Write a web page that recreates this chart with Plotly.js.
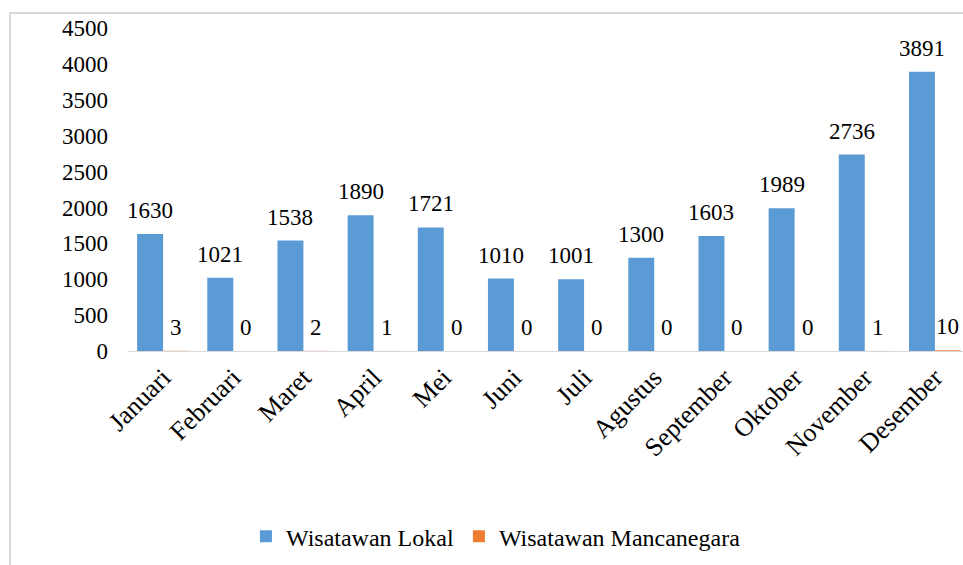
<!DOCTYPE html>
<html>
<head>
<meta charset="utf-8">
<script src="https://cdn.plot.ly/plotly-3.0.1.min.js"></script>
<style>
  body { margin: 0; background: #fff; }
  #wrap { position: relative; width: 963px; height: 565px; overflow: hidden; }
  #chart { position: absolute; left: 0; top: 0; width: 963px; height: 565px; }
  #frame { position: absolute; left: 9px; top: 12px; width: 960px; height: 560px;
           border-left: 2px solid #d9d9d9; border-top: 2px solid #d9d9d9; pointer-events: none; }
</style>
</head>
<body>
<div id="wrap">
  <div id="chart"></div>
  <div id="frame"></div>
</div>
<script>
const months = ["Januari","Februari","Maret","April","Mei","Juni","Juli","Agustus","September","Oktober","November","Desember"];
const lokal = [1630, 1021, 1538, 1890, 1721, 1010, 1001, 1300, 1603, 1989, 2736, 3891];
const mancanegara = [3, 0, 2, 1, 0, 0, 0, 0, 0, 0, 1, 10];
const yTicks = [0, 500, 1000, 1500, 2000, 2500, 3000, 3500, 4000, 4500];

const FONT = "'Times New Roman', 'Liberation Serif', Times, serif";
const idx = months.map((m, i) => i);

const traces = [
  { type: "bar", name: "Wisatawan Lokal", x: idx, y: lokal,
    marker: { color: "#5B9BD5" }, hoverinfo: "skip" },
  { type: "bar", name: "Wisatawan Mancanegara", x: idx, y: mancanegara,
    marker: { color: "#ED7D31" }, hoverinfo: "skip" }
];

const off = 0.185;
const annotations = [];
lokal.forEach((v, i) => annotations.push({
  x: i - off, y: v, xref: "x", yref: "y", text: String(v), showarrow: false,
  yanchor: "bottom", yshift: 9, font: { family: FONT, size: 23, color: "#000" }
}));
mancanegara.forEach((v, i) => annotations.push({
  x: i + off, y: v, xref: "x", yref: "y", text: String(v), showarrow: false,
  yanchor: "bottom", yshift: 9, font: { family: FONT, size: 23, color: "#000" }
}));

const layout = {
  width: 963, height: 565,
  margin: { l: 128, r: 0, t: 28, b: 214 },
  paper_bgcolor: "#fff", plot_bgcolor: "#fff",
  font: { family: FONT, size: 23, color: "#000" },
  barmode: "group", bargap: 0.26, bargroupgap: 0,
  showlegend: true,
  legend: {
    orientation: "h", xref: "container", yref: "container",
    x: 0.515, xanchor: "center", y: 0.05, yanchor: "middle",
    font: { family: FONT, size: 24, color: "#000" }, traceorder: "normal"
  },
  xaxis: {
    type: "linear", range: [-0.5, 11.4],
    tickmode: "array", tickvals: idx, ticktext: months,
    tickangle: -45, ticks: "", showgrid: false, zeroline: false,
    showline: true, linecolor: "#d9d9d9", linewidth: 1,
    tickfont: { family: FONT, size: 26, color: "#000" }
  },
  yaxis: {
    range: [0, 4500], tickmode: "array", tickvals: yTicks,
    showgrid: false, zeroline: false, showline: false, ticks: "",
    ticklabelstandoff: 19,
    tickfont: { family: FONT, size: 23, color: "#000" }
  },
  annotations: annotations
};

Plotly.newPlot("chart", traces, layout, { staticPlot: true, displayModeBar: false });
</script>
</body>
</html>
